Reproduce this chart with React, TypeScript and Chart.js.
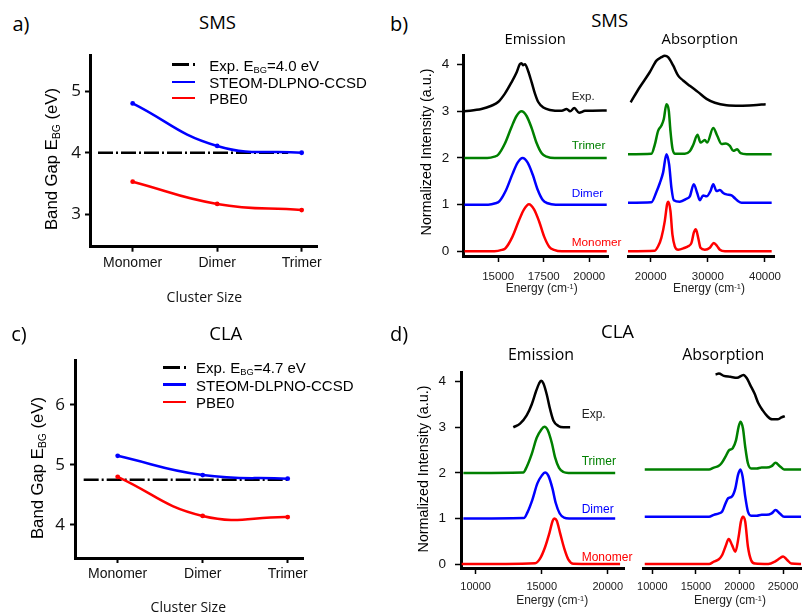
import React, { useEffect, useRef } from 'react';
import { Chart, registerables } from 'chart.js';

Chart.register(...registerables);

// ---------------- Data ----------------
const clusterCategories = ['Monomer', 'Dimer', 'Trimer'];
const clusterPositions = [0, 1, 2];

// Panel a (SMS band gaps, eV)
const smsSteom = [4.8, 4.11, 4.0];
const smsPbe0 = [3.53, 3.17, 3.07];
const smsExpGap = 4.0;
const smsExpSpan = [-0.41, 1.84];
const smsGapTicks = [3, 4, 5];

// Panel c (CLA band gaps, eV)
const claSteom = [5.15, 4.83, 4.77];
const claPbe0 = [4.8, 4.15, 4.13];
const claExpGap = 4.75;
const claExpSpan = [-0.4, 2.0];
const claGapTicks = [4, 5, 6];

// Spectra tick labels
const intensityTicks = [0, 1, 2, 3, 4];
const smsEmissionTicks = [15000, 17500, 20000];
const smsAbsorptionTicks = [20000, 30000, 40000];
const claEmissionTicks = [10000, 15000, 20000];
const claAbsorptionTicks = [10000, 15000, 20000, 25000];

// SMS emission (energy cm-1, offset normalized intensity)
const smsEmExpX = [13150, 14080, 14630, 15000, 15370, 15730, 16010, 16190, 16280, 16380, 16470, 16650, 16840, 17020, 17200, 17480, 17840, 18490, 18760, 18950, 19180, 19440, 19770, 20960];
const smsEmExpY = [3.0, 3.05, 3.12, 3.2, 3.38, 3.62, 3.83, 4.01, 4.03, 3.99, 4.01, 3.86, 3.62, 3.38, 3.2, 3.08, 3.03, 3.01, 3.05, 3.0, 3.07, 2.97, 3.01, 3.02];
const smsEmTriX = [13150, 14400, 14800, 15000, 15370, 15730, 16010, 16280, 16560, 16840, 17110, 17390, 17660, 18100, 20960];
const smsEmTriY = [2.0, 2.0, 2.03, 2.07, 2.31, 2.66, 2.9, 3.0, 2.9, 2.64, 2.32, 2.1, 2.03, 2.0, 2.0];
const smsEmDimX = [13150, 14450, 14850, 15060, 15430, 15790, 16070, 16340, 16620, 16900, 17170, 17450, 17720, 18160, 20960];
const smsEmDimY = [1.0, 1.0, 1.03, 1.07, 1.31, 1.66, 1.9, 2.0, 1.9, 1.64, 1.32, 1.1, 1.03, 1.0, 1.0];
const smsEmMonX = [13150, 14800, 15200, 15410, 15780, 16140, 16420, 16690, 16970, 17250, 17520, 17800, 18070, 18500, 20960];
const smsEmMonY = [0, 0, 0.03, 0.07, 0.31, 0.66, 0.9, 1.01, 0.9, 0.64, 0.32, 0.1, 0.03, 0, 0];

// SMS absorption
const smsAbExpX = [16490, 18070, 19820, 21000, 21870, 22460, 23040, 23920, 24800, 25670, 26840, 28300, 29770, 31230, 33270, 35610, 37950, 40120];
const smsAbExpY = [3.07, 3.38, 3.69, 3.93, 4.0, 4.03, 4.0, 3.83, 3.62, 3.52, 3.41, 3.28, 3.14, 3.06, 3.01, 3.0, 3.01, 3.03];
const smsAbTriX = [16020, 20120, 20700, 21290, 21870, 22280, 22750, 23160, 23450, 23800, 24210, 25960, 26840, 27430, 28190, 28710, 29470, 29880, 30940, 31640, 32400, 33160, 33860, 34440, 35150, 35730, 36780, 41170];
const smsAbTriY = [2.0, 2.01, 2.19, 2.48, 2.59, 2.72, 3.03, 2.9, 2.48, 2.12, 2.01, 2.01, 2.06, 2.19, 2.4, 2.24, 2.29, 2.24, 2.54, 2.38, 2.21, 2.22, 2.17, 2.07, 2.1, 2.02, 2.0, 2.0];
const smsAbDimX = [16020, 20120, 20990, 21580, 22160, 22750, 23220, 23630, 24040, 25090, 26260, 26840, 27540, 28130, 28600, 29180, 29770, 30470, 30940, 31520, 32100, 32690, 33270, 34150, 34740, 35320, 35900, 41170];
const smsAbDimY = [1.0, 1.01, 1.22, 1.4, 1.62, 2.0, 1.79, 1.3, 1.05, 1.02, 1.08, 1.13, 1.38, 1.2, 1.05, 1.15, 1.13, 1.24, 1.38, 1.24, 1.26, 1.2, 1.17, 1.15, 1.09, 1.03, 1.0, 1.0];
const smsAbMonX = [16020, 20700, 21290, 21870, 22460, 22870, 23100, 23450, 23800, 24210, 24800, 25960, 26550, 27130, 27540, 27900, 28300, 28710, 29470, 30350, 31050, 31640, 32100, 33000, 41170];
const smsAbMonY = [0, 0.01, 0.1, 0.28, 0.62, 0.97, 1.02, 0.83, 0.34, 0.1, 0.03, 0.07, 0.1, 0.17, 0.38, 0.45, 0.28, 0.07, 0.03, 0.07, 0.17, 0.1, 0.03, 0.0, 0.0];

// CLA emission
const claEmExpX = [12850, 13360, 13860, 14240, 14570, 14800, 14950, 15130, 15380, 15630, 15880, 16260, 16640, 17150];
const claEmExpY = [3.0, 3.08, 3.26, 3.5, 3.79, 3.96, 4.02, 3.96, 3.72, 3.4, 3.15, 3.03, 3.0, 3.0];
const claEmTriX = [9070, 13600, 13860, 14240, 14620, 14950, 15200, 15450, 15760, 16010, 16310, 16640, 17020, 20560];
const claEmTriY = [2.0, 2.01, 2.13, 2.41, 2.77, 2.94, 3.01, 2.94, 2.66, 2.34, 2.11, 2.02, 2.0, 2.0];
const claEmDimX = [9070, 13650, 13910, 14290, 14670, 15000, 15250, 15500, 15810, 16060, 16360, 16690, 17070, 20560];
const claEmDimY = [1.0, 1.01, 1.13, 1.41, 1.77, 1.94, 2.01, 1.94, 1.66, 1.34, 1.11, 1.02, 1.0, 1.0];
const claEmMonX = [8940, 14500, 14870, 15250, 15580, 15830, 15960, 16140, 16390, 16720, 17020, 17400, 20930];
const claEmMonY = [0, 0.02, 0.12, 0.37, 0.68, 0.95, 1.0, 0.95, 0.68, 0.33, 0.1, 0.01, 0];

// CLA absorption
const claAbExpX = [17250, 17630, 18200, 18950, 19710, 20460, 20840, 21220, 21710, 22160, 22660, 23220, 23750, 24360, 24810, 25190];
const claAbExpY = [4.01, 4.03, 3.98, 3.96, 3.94, 4.0, 3.93, 3.79, 3.61, 3.4, 3.25, 3.12, 3.06, 3.06, 3.1, 3.13];
const claAbTriX = [9130, 16500, 17060, 17560, 17930, 18390, 18760, 19220, 19600, 19900, 20120, 20390, 20650, 20960, 21330, 21980, 22540, 23110, 23680, 24130, 24620, 25110, 27080];
const claAbTriY = [2, 2, 2.04, 2.07, 2.13, 2.27, 2.4, 2.45, 2.62, 2.91, 3.01, 2.87, 2.48, 2.13, 2.02, 2.02, 2.04, 2.04, 2.07, 2.14, 2.07, 2.0, 2.0];
const claAbDimX = [9130, 16500, 17060, 17630, 18010, 18390, 18690, 19140, 19520, 19820, 20090, 20350, 20650, 20960, 21330, 21980, 22540, 23110, 23680, 24130, 24620, 25110, 27080];
const claAbDimY = [1, 1, 1.04, 1.07, 1.11, 1.28, 1.39, 1.43, 1.6, 1.88, 2.0, 1.85, 1.43, 1.11, 1.02, 1.02, 1.04, 1.04, 1.07, 1.14, 1.07, 1.0, 1.0];
const claAbMonX = [9130, 16500, 17060, 17630, 18010, 18390, 18760, 19140, 19520, 19900, 20160, 20390, 20650, 20960, 21330, 21790, 23300, 24050, 24620, 25000, 25490, 25940, 27080];
const claAbMonY = [0, 0, 0.05, 0.1, 0.19, 0.37, 0.53, 0.4, 0.26, 0.58, 0.9, 1.0, 0.9, 0.37, 0.08, 0.01, 0, 0.05, 0.12, 0.16, 0.08, 0.01, 0];

// ---------------- Styles ----------------
const BLUE = '#0000ff';
const RED = '#ff0000';
const GREEN = '#008000';
const BLACK = '#000000';
const ARIAL = '"Liberation Sans", Arial, sans-serif';
const CALIBRI = '"Open Sans", "Noto Sans", sans-serif';

type Box = { left: number; top: number; width: number; height: number };

function zip(xs: number[], ys: number[]) {
  return xs.map((x, i) => ({ x, y: ys[i] }));
}

function fixedTicks(values: number[]) {
  return (scale: any) => {
    scale.ticks = values.map((v) => ({ value: v }));
  };
}

type GapParams = {
  steom: number[];
  pbe0: number[];
  expGap: number;
  expSpan: number[];
  yTicks: number[];
  yMin: number;
  yMax: number;
  xMin: number;
  xMax: number;
  yW: number;
  xH: number;
  padTop: number;
  padRight: number;
  yTickLen: number;
  yTickPad: number;
  xTickPad: number;
};

function gapConfig(p: GapParams): any {
  const pts = (vals: number[]) => vals.map((v, i) => ({ x: clusterPositions[i], y: v }));
  const curve = (vals: number[], color: string) => ({
    data: pts(vals),
    borderColor: color,
    backgroundColor: color,
    borderWidth: 2.5,
    tension: 0.45,
    pointRadius: 2.4,
    pointBorderWidth: 0,
    pointBackgroundColor: color,
    fill: false,
  });
  return {
    type: 'line',
    data: {
      datasets: [
        curve(p.steom, BLUE),
        curve(p.pbe0, RED),
        {
          data: p.expSpan.map((x) => ({ x, y: p.expGap })),
          borderColor: BLACK,
          borderWidth: 2.5,
          borderDash: [15, 3, 2, 3],
          pointRadius: 0,
          tension: 0,
          fill: false,
        },
      ],
    },
    options: {
      animation: false,
      responsive: false,
      maintainAspectRatio: false,
      layout: { padding: { left: 0, top: p.padTop, right: p.padRight, bottom: 0 } },
      plugins: { legend: { display: false }, tooltip: { enabled: false }, title: { display: false } },
      scales: {
        x: {
          type: 'linear',
          min: p.xMin,
          max: p.xMax,
          afterBuildTicks: fixedTicks(clusterPositions),
          afterFit: (s: any) => {
            s.height = p.xH;
          },
          ticks: {
            callback: (_v: any, i: number) => clusterCategories[i] ?? '',
            font: { family: ARIAL, size: 14 },
            color: '#111',
            padding: p.xTickPad,
            maxRotation: 0,
            autoSkip: false,
          },
          grid: { display: true, drawOnChartArea: false, drawTicks: true, tickLength: 5, tickWidth: 2, color: BLACK, tickColor: BLACK },
          border: { display: true, color: BLACK, width: 3 },
        },
        y: {
          type: 'linear',
          min: p.yMin,
          max: p.yMax,
          afterBuildTicks: fixedTicks(p.yTicks),
          afterFit: (s: any) => {
            s.width = p.yW;
          },
          ticks: {
            font: { family: CALIBRI, size: 17 },
            color: '#111',
            padding: p.yTickPad,
            callback: (v: any) => String(v),
          },
          grid: { display: true, drawOnChartArea: false, drawTicks: true, tickLength: p.yTickLen, tickWidth: 2, color: BLACK, tickColor: BLACK },
          border: { display: true, color: BLACK, width: 3 },
        },
      },
    },
  };
}

type Series = { x: number[]; y: number[]; color: string };
type SpecParams = {
  series: Series[];
  xMin: number;
  xMax: number;
  xTicks: number[];
  yMin: number;
  yMax: number;
  showY: boolean;
  yW: number;
  xH: number;
  padTop: number;
  padRight: number;
  padLeft: number;
  xFont: number;
  yFont: number;
  yTickPad: number;
  xTickPad: number;
};

function specConfig(p: SpecParams): any {
  return {
    type: 'line',
    data: {
      datasets: p.series.map((s) => ({
        data: zip(s.x, s.y),
        borderColor: s.color,
        borderWidth: 2.5,
        pointRadius: 0,
        cubicInterpolationMode: 'monotone',
        fill: false,
      })),
    },
    options: {
      animation: false,
      responsive: false,
      maintainAspectRatio: false,
      layout: { padding: { left: p.padLeft, top: p.padTop, right: p.padRight, bottom: 0 } },
      plugins: { legend: { display: false }, tooltip: { enabled: false }, title: { display: false } },
      scales: {
        x: {
          type: 'linear',
          min: p.xMin,
          max: p.xMax,
          afterBuildTicks: fixedTicks(p.xTicks),
          afterFit: (s: any) => {
            s.height = p.xH;
          },
          ticks: {
            callback: (v: any) => String(v),
            font: { family: ARIAL, size: p.xFont },
            color: '#222',
            padding: p.xTickPad,
            maxRotation: 0,
            autoSkip: false,
          },
          grid: { display: true, drawOnChartArea: false, drawTicks: true, tickLength: 6, tickWidth: 1.5, color: BLACK, tickColor: BLACK },
          border: { display: true, color: BLACK, width: 3 },
        },
        y: {
          type: 'linear',
          display: p.showY,
          min: p.yMin,
          max: p.yMax,
          afterBuildTicks: fixedTicks(intensityTicks),
          afterFit: (s: any) => {
            s.width = p.yW;
          },
          ticks: {
            font: { family: ARIAL, size: p.yFont },
            color: '#111',
            padding: p.yTickPad,
            callback: (v: any) => String(v),
          },
          grid: { display: true, drawOnChartArea: false, drawTicks: true, tickLength: 6, tickWidth: 1.5, color: BLACK, tickColor: BLACK },
          border: { display: true, color: BLACK, width: 3 },
        },
      },
    },
  };
}

function ChartCanvas({ box, config }: { box: Box; config: () => any }) {
  const ref = useRef<HTMLCanvasElement>(null);
  useEffect(() => {
    if (!ref.current) return;
    const chart = new Chart(ref.current, config());
    return () => chart.destroy();
  }, []);
  return (
    <canvas
      ref={ref}
      width={box.width}
      height={box.height}
      style={{ position: 'absolute', left: box.left, top: box.top, width: box.width, height: box.height }}
    />
  );
}

function Txt(props: {
  x: number;
  y: number;
  size: number;
  family: string;
  color?: string;
  align?: 'left' | 'center';
  rotate?: boolean;
  children: React.ReactNode;
}) {
  const tx = props.align === 'left' ? '0' : '-50%';
  const transform = props.rotate ? 'translate(-50%, -50%) rotate(-90deg)' : `translate(${tx}, -50%)`;
  return (
    <div
      style={{
        position: 'absolute',
        left: props.x,
        top: props.y,
        transform,
        fontSize: props.size,
        fontFamily: props.family,
        color: props.color ?? '#000',
        lineHeight: 1,
        whiteSpace: 'nowrap',
        zIndex: 2,
      }}
    >
      {props.children}
    </div>
  );
}

const subStyle: React.CSSProperties = { fontSize: '0.62em', verticalAlign: '-0.28em', lineHeight: 0 };
const supStyle: React.CSSProperties = { fontSize: '0.62em', verticalAlign: '0.45em', lineHeight: 0 };

function Seg({ x, y, w, color, h = 3 }: { x: number; y: number; w: number; color: string; h?: number }) {
  return <div style={{ position: 'absolute', left: x, top: y - h / 2, width: w, height: h, background: color, zIndex: 2 }} />;
}

function GapLegend({ x, textX, rows, expLabel }: { x: number; textX: number; rows: number[]; expLabel: string }) {
  return (
    <>
      <Seg x={x} y={rows[0]} w={17} color={BLACK} />
      <Seg x={x + 20.5} y={rows[0]} w={2.5} color={BLACK} />
      <Txt x={textX} y={rows[0]} size={15} family={ARIAL} align="left">
        Exp. E<span style={subStyle}>BG</span>={expLabel} eV
      </Txt>
      <Seg x={x} y={rows[1]} w={23} color={BLUE} h={2.6} />
      <Txt x={textX} y={rows[1]} size={15} family={ARIAL} align="left">
        STEOM-DLPNO-CCSD
      </Txt>
      <Seg x={x} y={rows[2]} w={23} color={RED} h={2.6} />
      <Txt x={textX} y={rows[2]} size={15} family={ARIAL} align="left">
        PBE0
      </Txt>
    </>
  );
}

function Energy({ x, y }: { x: number; y: number }) {
  return (
    <Txt x={x} y={y} size={12} family={ARIAL} color="#222">
      Energy (cm<span style={supStyle}>-1</span>)
    </Txt>
  );
}

export default function App() {
  const boxA: Box = { left: 0, top: 40, width: 330, height: 250 };
  const boxC: Box = { left: 0, top: 345, width: 320, height: 255 };
  const boxBE: Box = { left: 400, top: 40, width: 215, height: 265 };
  const boxBA: Box = { left: 620, top: 40, width: 185, height: 265 };
  const boxDE: Box = { left: 400, top: 355, width: 230, height: 259 };
  const boxDA: Box = { left: 630, top: 355, width: 175, height: 259 };

  const cfgA = () =>
    gapConfig({
      steom: smsSteom, pbe0: smsPbe0, expGap: smsExpGap, expSpan: smsExpSpan, yTicks: smsGapTicks,
      yMin: 2.476, yMax: 5.585, xMin: -0.505, xMax: 2.185,
      yW: 90, xH: 43.3, padTop: 15, padRight: 12.7, yTickLen: 5, yTickPad: 4, xTickPad: 3.4,
    });
  const cfgC = () =>
    gapConfig({
      steom: claSteom, pbe0: claPbe0, expGap: claExpGap, expSpan: claExpSpan, yTicks: claGapTicks,
      yMin: 3.45, yMax: 6.74, xMin: -0.502, xMax: 2.18,
      yW: 75, xH: 42, padTop: 10, padRight: 17, yTickLen: 5, yTickPad: 5, xTickPad: 2.6,
    });
  const cfgBE = () =>
    specConfig({
      series: [
        { x: smsEmMonX, y: smsEmMonY, color: RED },
        { x: smsEmDimX, y: smsEmDimY, color: BLUE },
        { x: smsEmTriX, y: smsEmTriY, color: GREEN },
        { x: smsEmExpX, y: smsEmExpY, color: BLACK },
      ],
      xMin: 13070, xMax: 21030, xTicks: smsEmissionTicks, yMin: -0.1, yMax: 4.19, showY: true,
      yW: 63, xH: 49, padTop: 8, padRight: 7, padLeft: 0, xFont: 11.5, yFont: 13.5, yTickPad: 7.7, xTickPad: 7.8,
    });
  const cfgBA = () =>
    specConfig({
      series: [
        { x: smsAbMonX, y: smsAbMonY, color: RED },
        { x: smsAbDimX, y: smsAbDimY, color: BLUE },
        { x: smsAbTriX, y: smsAbTriY, color: GREEN },
        { x: smsAbExpX, y: smsAbExpY, color: BLACK },
      ],
      xMin: 16020, xMax: 41580, xTicks: smsAbsorptionTicks, yMin: -0.1, yMax: 4.19, showY: false,
      yW: 0, xH: 49, padTop: 8, padRight: 31, padLeft: 8, xFont: 11.5, yFont: 13.5, yTickPad: 7.7, xTickPad: 7.8,
    });
  const cfgDE = () =>
    specConfig({
      series: [
        { x: claEmMonX, y: claEmMonY, color: RED },
        { x: claEmDimX, y: claEmDimY, color: BLUE },
        { x: claEmTriX, y: claEmTriY, color: GREEN },
        { x: claEmExpX, y: claEmExpY, color: BLACK },
      ],
      xMin: 8890, xMax: 21260, xTicks: claEmissionTicks, yMin: -0.085, yMax: 4.21, showY: true,
      yW: 61, xH: 46, padTop: 10, padRight: 5, padLeft: 0, xFont: 11, yFont: 13.5, yTickPad: 9, xTickPad: 6.4,
    });
  const cfgDA = () =>
    specConfig({
      series: [
        { x: claAbMonX, y: claAbMonY, color: RED },
        { x: claAbDimX, y: claAbDimY, color: BLUE },
        { x: claAbTriX, y: claAbTriY, color: GREEN },
        { x: claAbExpX, y: claAbExpY, color: BLACK },
      ],
      xMin: 8930, xMax: 27070, xTicks: claAbsorptionTicks, yMin: -0.085, yMax: 4.21, showY: false,
      yW: 0, xH: 46, padTop: 10, padRight: 1.5, padLeft: 13, xFont: 11, yFont: 13.5, yTickPad: 9, xTickPad: 6.4,
    });

  return (
    <div style={{ position: 'fixed', left: 0, top: 0, width: 805, height: 614, background: '#fff', overflow: 'hidden' }}>
      <ChartCanvas box={boxA} config={cfgA} />
      <ChartCanvas box={boxC} config={cfgC} />
      <ChartCanvas box={boxBE} config={cfgBE} />
      <ChartCanvas box={boxBA} config={cfgBA} />
      <ChartCanvas box={boxDE} config={cfgDE} />
      <ChartCanvas box={boxDA} config={cfgDA} />

      {/* Panel letters */}
      <Txt x={21} y={24} size={20} family={CALIBRI}>a)</Txt>
      <Txt x={399} y={24} size={20} family={CALIBRI}>b)</Txt>
      <Txt x={19} y={334} size={20} family={CALIBRI}>c)</Txt>
      <Txt x={399} y={334} size={20} family={CALIBRI}>d)</Txt>

      {/* Titles */}
      <Txt x={217.5} y={21.7} size={18.5} family={CALIBRI}>SMS</Txt>
      <Txt x={609.7} y={20} size={18.5} family={CALIBRI}>SMS</Txt>
      <Txt x={535.2} y={37.5} size={14.8} family={CALIBRI}>Emission</Txt>
      <Txt x={699.8} y={37.5} size={14.8} family={CALIBRI}>Absorption</Txt>
      <Txt x={225.8} y={332.5} size={18.5} family={CALIBRI}>CLA</Txt>
      <Txt x={617.5} y={330.8} size={18.5} family={CALIBRI}>CLA</Txt>
      <Txt x={541} y={355} size={15.9} family={CALIBRI}>Emission</Txt>
      <Txt x={723.3} y={355} size={15.9} family={CALIBRI}>Absorption</Txt>

      {/* Panel a / c axis titles and legends */}
      <Txt x={51.7} y={159} size={16.7} family={ARIAL} rotate>
        Band Gap E<span style={subStyle}>BG</span> (eV)
      </Txt>
      <Txt x={204.3} y={296.7} size={14} family={CALIBRI} color="#111">Cluster Size</Txt>
      <GapLegend x={172.3} textX={209.3} rows={[64.5, 81.8, 97.8]} expLabel="4.0" />

      <Txt x={38.3} y={468.3} size={16.7} family={ARIAL} rotate>
        Band Gap E<span style={subStyle}>BG</span> (eV)
      </Txt>
      <Txt x={188.3} y={606.7} size={14} family={CALIBRI} color="#111">Cluster Size</Txt>
      <GapLegend x={163.3} textX={196} rows={[367, 384.5, 402]} expLabel="4.7" />

      {/* Panel b / d axis titles */}
      <Txt x={425.8} y={151.5} size={14.3} family={ARIAL} rotate>Normalized Intensity (a.u.)</Txt>
      <Energy x={541.7} y={288.3} />
      <Energy x={709} y={288.3} />
      <Txt x={423.3} y={469.2} size={14.3} family={ARIAL} rotate>Normalized Intensity (a.u.)</Txt>
      <Energy x={552.2} y={600} />
      <Energy x={730} y={600} />

      {/* Curve labels */}
      <Txt x={571.7} y={97.3} size={11.5} family={ARIAL} align="left" color="#222">Exp.</Txt>
      <Txt x={571.7} y={145.7} size={11.8} family={ARIAL} align="left" color={GREEN}>Trimer</Txt>
      <Txt x={571.7} y={194} size={11.8} family={ARIAL} align="left" color={BLUE}>Dimer</Txt>
      <Txt x={571.7} y={242.7} size={11.8} family={ARIAL} align="left" color={RED}>Monomer</Txt>

      <Txt x={581.7} y={413.8} size={12} family={ARIAL} align="left" color="#222">Exp.</Txt>
      <Txt x={581.7} y={461} size={12} family={ARIAL} align="left" color={GREEN}>Trimer</Txt>
      <Txt x={581.7} y={509} size={12} family={ARIAL} align="left" color={BLUE}>Dimer</Txt>
      <Txt x={581.7} y={557} size={12} family={ARIAL} align="left" color={RED}>Monomer</Txt>
    </div>
  );
}
